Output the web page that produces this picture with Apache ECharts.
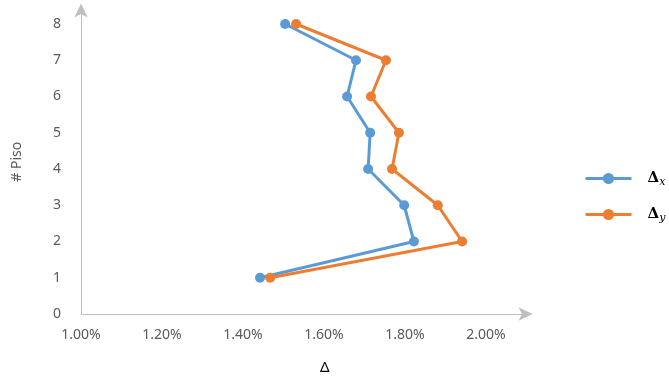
<!DOCTYPE html>
<html>
<head>
<meta charset="utf-8">
<script src="https://cdn.jsdelivr.net/npm/echarts@6/dist/echarts.min.js"></script>
<style>
  html, body { margin: 0; padding: 0; background: #fff; }
  #chart { width: 669px; height: 379px; }
</style>
</head>
<body>
<div id="chart"></div>
<script>
// Storey drift (%) per floor in each direction
const floors = [1, 2, 3, 4, 5, 6, 7, 8];
const driftX = [1.442, 1.822, 1.798, 1.709, 1.714, 1.657, 1.679, 1.504];
const driftY = [1.467, 1.941, 1.881, 1.768, 1.785, 1.716, 1.753, 1.531];
const floorTicks = [0, 1, 2, 3, 4, 5, 6, 7, 8];
const driftTicks = [1.0, 1.2, 1.4, 1.6, 1.8, 2.0];

const BLUE = '#5b9bd5';
const ORANGE = '#ed7d31';
const AXIS = '#bfbfbf';
const TEXT = '#595959';

const pairs = vals => vals.map((v, i) => [v, floors[i]]);
const isTick = (list, v) => list.some(t => Math.abs(t - v) < 1e-6);

const chart = echarts.init(document.getElementById('chart'));
chart.setOption({
  animation: false,
  grid: { left: 81, right: 142.5, top: 9.5, bottom: 65, outerBoundsMode: 'none', containLabel: false },
  legend: {
    orient: 'vertical',
    left: 579,
    top: 166,
    itemWidth: 46,
    itemHeight: 14,
    itemGap: 19,
    data: ['dx', 'dy'],
    lineStyle: { width: 3 },
    itemStyle: { borderWidth: 0 },
    formatter: name => name === 'dx' ? '{d|Δ}{s|x}' : '{d|Δ}{s|y}',
    textStyle: {
      rich: {
        d: { fontFamily: 'DejaVu Serif', fontSize: 15, color: '#000', fontWeight: 'bold', padding: [0, 0, 0, 11] },
        s: { fontFamily: 'DejaVu Serif', fontStyle: 'italic', fontSize: 11, color: '#000', padding: [8, 0, 0, 0] }
      }
    }
  },
  xAxis: {
    type: 'value',
    min: 1.0,
    max: 2.1,
    interval: 0.2,
    name: 'Δ',
    nameLocation: 'middle',
    nameGap: 46,
    nameTextStyle: { fontFamily: 'Noto Sans', fontSize: 15, color: '#000', padding: [0, 0, 0, 42] },
    axisLine: { lineStyle: { color: AXIS, width: 1 }, symbol: ['none', 'arrow'], symbolSize: [10, 14], symbolOffset: [0, 6] },
    axisTick: { show: false },
    splitLine: { show: false },
    axisLabel: {
      color: TEXT,
      fontFamily: 'Noto Sans',
      fontSize: 14,
      margin: 14,
      formatter: v => isTick(driftTicks, v) ? v.toFixed(2) + '%' : ''
    }
  },
  yAxis: {
    type: 'value',
    min: 0,
    max: 8.4,
    interval: 1,
    name: '# Piso',
    nameLocation: 'middle',
    nameRotate: 90,
    nameGap: 57,
    nameTextStyle: { fontFamily: 'Noto Sans', fontSize: 14, color: TEXT },
    axisLine: { show: true, lineStyle: { color: AXIS, width: 1 }, symbol: ['none', 'arrow'], symbolSize: [10, 14], symbolOffset: [0, 6] },
    axisTick: { show: false },
    splitLine: { show: false },
    axisLabel: {
      color: TEXT,
      fontFamily: 'Noto Sans',
      fontSize: 14,
      margin: 20,
      formatter: v => isTick(floorTicks, v) ? String(v) : ''
    }
  },
  series: [
    {
      name: 'dx',
      type: 'line',
      data: pairs(driftX),
      symbol: 'circle',
      symbolSize: 10,
      lineStyle: { color: BLUE, width: 3 },
      itemStyle: { color: BLUE }
    },
    {
      name: 'dy',
      type: 'line',
      data: pairs(driftY),
      symbol: 'circle',
      symbolSize: 10,
      lineStyle: { color: ORANGE, width: 3 },
      itemStyle: { color: ORANGE }
    }
  ]
});
</script>
</body>
</html>
